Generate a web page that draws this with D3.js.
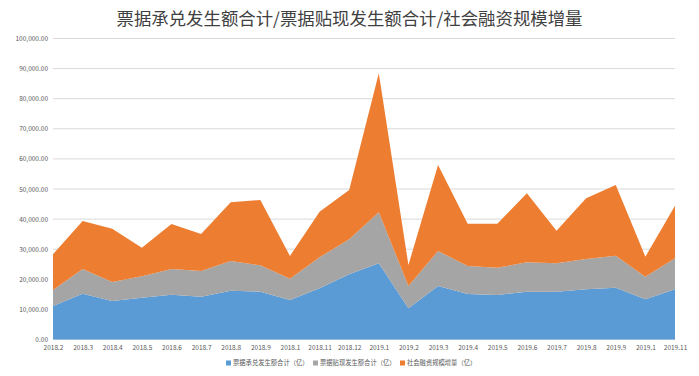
<!DOCTYPE html>
<html>
<head>
<meta charset="utf-8">
<script src="https://cdn.jsdelivr.net/npm/d3@7"></script>
<style>
  body { margin: 0; background: #fff; }
  text { font-family: "Noto Sans CJK SC", "Liberation Sans", sans-serif; }
</style>
</head>
<body>
<div id="chart"></div>
<script>
    var w = 699;
    var h = 376;

    // Month labels as printed on the axis (Excel dropped the trailing 0 of .10)
    var months = ["2018.2", "2018.3", "2018.4", "2018.5", "2018.6", "2018.7", "2018.8", "2018.9",
        "2018.1", "2018.11", "2018.12", "2019.1", "2019.2", "2019.3", "2019.4", "2019.5",
        "2019.6", "2019.7", "2019.8", "2019.9", "2019.1", "2019.11"];

    var seriesNames = ["票据承兑发生额合计（亿）", "票据贴现发生额合计（亿）", "社会融资规模增量（亿）"];
    var seriesColors = ["#5B9BD5", "#A5A5A5", "#ED7D31"];

    // Values (each series on its own, stacked in the chart)
    var acceptance = [11130, 15220, 12790, 13890, 14890, 14220, 16220, 15880, 13120, 17010, 21660,
        25320, 10360, 17770, 15120, 14780, 15880, 15880, 16680, 17210, 13350, 16680];
    var discount = [5310, 8200, 6310, 7110, 8530, 8540, 9860, 8770, 7080, 10300, 11630,
        16940, 7410, 11630, 9300, 9070, 9770, 9440, 10060, 10630, 7510, 10300];
    var financing = [11860, 15950, 17700, 9500, 14950, 12290, 19500, 21700, 7540, 15150, 16380,
        46180, 6980, 28570, 14050, 14620, 22920, 10830, 20170, 23490, 6650, 17470];

    var yTicks = [0, 10000, 20000, 30000, 40000, 50000, 60000, 70000, 80000, 90000, 100000];

    // plot box (note: "top" is a reserved window property, so use other names)
    var plotLeft = 53, plotRight = 675, plotTop = 38.5, plotBottom = 339.5;

    var table = months.map(function(m, i) {
        return { idx: i, s0: acceptance[i], s1: discount[i], s2: financing[i] };
    });
    var stack = d3.stack().keys(["s0", "s1", "s2"]);
    var layers = stack(table);

    var xScale = d3.scalePoint()
        .domain(d3.range(months.length))
        .range([plotLeft, plotRight]);

    var yScale = d3.scaleLinear()
        .domain([0, 100000])
        .range([plotBottom, plotTop]);

    var svg = d3.select("#chart")
        .append("svg")
        .attr("width", w)
        .attr("height", h);

    // Title
    svg.append("text")
        .attr("x", w / 2)
        .attr("y", 25)
        .attr("text-anchor", "middle")
        .attr("fill", "#404040")
        .attr("font-size", "17px")
        .attr("textLength", 466)
        .attr("lengthAdjust", "spacingAndGlyphs")
        .text("票据承兑发生额合计/票据贴现发生额合计/社会融资规模增量");

    // grid lines
    svg.append("g")
        .selectAll("line")
        .data(yTicks)
        .enter()
        .append("line")
        .attr("x1", plotLeft)
        .attr("x2", plotRight)
        .attr("y1", function(d) { return yScale(d); })
        .attr("y2", function(d) { return yScale(d); })
        .attr("stroke", "#D9D9D9")
        .attr("stroke-width", 1);

    // y axis labels
    var yAxis = d3.axisLeft(yScale)
        .tickValues(yTicks)
        .tickSize(0)
        .tickPadding(5)
        .tickFormat(d3.format(",.2f"));
    var gy = svg.append("g")
        .attr("transform", "translate(" + plotLeft + ",0)")
        .call(yAxis);
    gy.select(".domain").remove();
    gy.selectAll("text")
        .attr("fill", "#595959")
        .attr("font-size", "6.5px")
        .attr("font-family", "Liberation Sans, sans-serif");

    // stacked areas
    var area = d3.area()
        .x(function(d, i) { return xScale(i); })
        .y0(function(d) { return yScale(d[0]); })
        .y1(function(d) { return yScale(d[1]); });

    svg.append("g")
        .selectAll("path")
        .data(layers)
        .enter()
        .append("path")
        .attr("d", area)
        .attr("fill", function(d, i) { return seriesColors[i]; });

    // x axis labels
    var xAxis = d3.axisBottom(xScale)
        .tickSize(0)
        .tickPadding(6)
        .tickFormat(function(i) { return months[i]; });
    var gx = svg.append("g")
        .attr("transform", "translate(0," + plotBottom + ")")
        .call(xAxis);
    gx.select(".domain").remove();
    gx.selectAll("text")
        .attr("fill", "#595959")
        .attr("font-size", "6.5px")
        .attr("font-family", "Liberation Sans, sans-serif");

    // legend
    var legendX = [226, 313, 400];
    var legend = svg.append("g")
        .selectAll("g")
        .data(seriesNames)
        .enter()
        .append("g")
        .attr("transform", function(d, i) { return "translate(" + legendX[i] + ",363)"; });
    legend.append("rect")
        .attr("x", 0)
        .attr("y", -2.5)
        .attr("width", 5)
        .attr("height", 5)
        .attr("fill", function(d, i) { return seriesColors[i]; });
    legend.append("text")
        .attr("x", 7)
        .attr("y", 2.3)
        .attr("fill", "#595959")
        .attr("font-size", "6.3px")
        .text(function(d) { return d; });
</script>
</body>
</html>
